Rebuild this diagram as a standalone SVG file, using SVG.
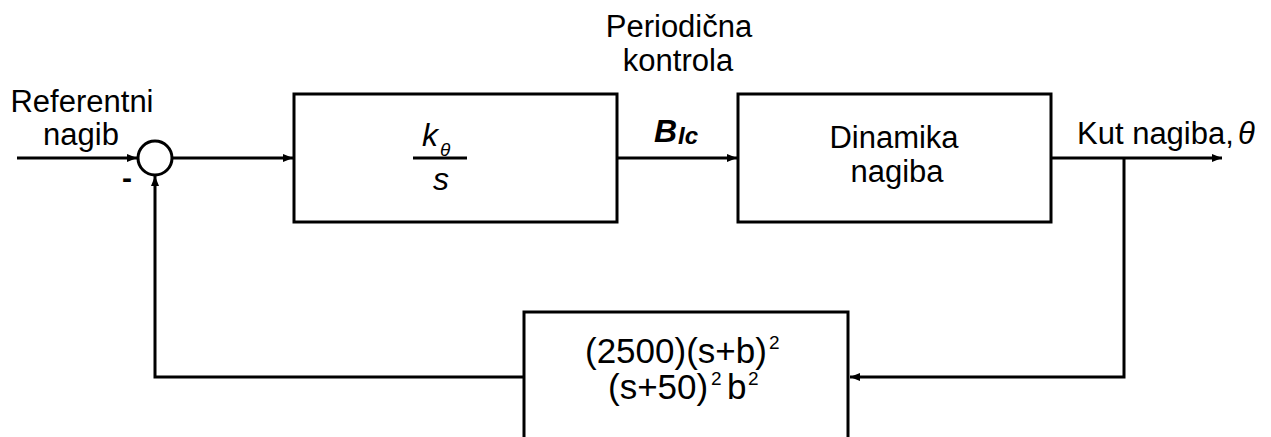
<svg xmlns="http://www.w3.org/2000/svg" width="1271" height="437" viewBox="0 0 1271 437">
<style>
.box{fill:#fff;stroke:#000;stroke-width:3}
.ln{fill:none;stroke:#000;stroke-width:3}
.t{font-family:"Liberation Sans",Arial,sans-serif;fill:#000}
.m{text-anchor:middle}
</style>
<defs>
<marker id="ah" viewBox="0 0 10 8" refX="10" refY="4" markerWidth="10" markerHeight="8" markerUnits="userSpaceOnUse" orient="auto">
<path d="M0,0 L10,4 L0,8 Z" fill="#000"/>
</marker>
</defs>
<rect width="1271" height="437" fill="#fff"/>
<g id="connectors">
<line class="ln" x1="17" y1="158" x2="137" y2="158" marker-end="url(#ah)"/>
<line class="ln" x1="172" y1="158" x2="293" y2="158" marker-end="url(#ah)"/>
<line class="ln" x1="617" y1="158" x2="737" y2="158" marker-end="url(#ah)"/>
<line class="ln" x1="1051" y1="158" x2="1222" y2="158" marker-end="url(#ah)"/>
<polyline class="ln" points="1124,158 1124,377 850,377" marker-end="url(#ah)"/>
<polyline class="ln" points="524,377 155,377 155,176" marker-end="url(#ah)"/>
</g>
<g id="sum">
<circle cx="155" cy="158" r="17" fill="#fff" stroke="#000" stroke-width="3"/>
<text class="t m" x="127" y="188" font-size="30" font-weight="bold">-</text>
</g>
<g id="input-label">
<text class="t m" x="82" y="112" font-size="31">Referentni</text>
<text class="t m" x="81" y="145" font-size="31">nagib</text>
</g>
<g id="controller">
<rect class="box" x="294" y="94" width="323" height="128"/>
<text class="t" x="422" y="146" font-size="32" font-style="italic">k</text>
<text class="t" x="440" y="156" font-size="19" font-style="italic">θ</text>
<line x1="413" y1="158" x2="467" y2="158" stroke="#000" stroke-width="3"/>
<text class="t m" x="441" y="190" font-size="32" font-style="italic">s</text>
</g>
<g id="b1c-label">
<text class="t" x="654" y="142" font-size="32" font-weight="bold" font-style="italic">B</text>
<text class="t" x="678" y="144" font-size="24" font-weight="bold" font-style="italic">Ic</text>
</g>
<g id="periodic-label">
<text class="t m" x="679" y="37" font-size="31">Periodična</text>
<text class="t m" x="678" y="71" font-size="31">kontrola</text>
</g>
<g id="plant">
<rect class="box" x="738" y="94" width="313" height="128"/>
<text class="t m" x="894" y="148" font-size="31">Dinamika</text>
<text class="t m" x="897" y="182" font-size="31">nagiba</text>
</g>
<g id="output-label">
<text class="t" x="1077" y="144" font-size="31">Kut nagiba,</text>
<text class="t" x="1238" y="144" font-size="31" font-style="italic">θ</text>
</g>
<g id="feedback">
<rect class="box" x="524" y="312" width="324" height="140"/>
<text class="t" x="585" y="363" font-size="35">(2500)(s+b)</text>
<text class="t" x="769" y="349" font-size="19">2</text>
<text class="t" x="608" y="399" font-size="35">(s+50)</text>
<text class="t" x="711" y="385" font-size="19">2</text>
<text class="t" x="727" y="399" font-size="35">b</text>
<text class="t" x="748" y="385" font-size="19">2</text>
</g>
</svg>
